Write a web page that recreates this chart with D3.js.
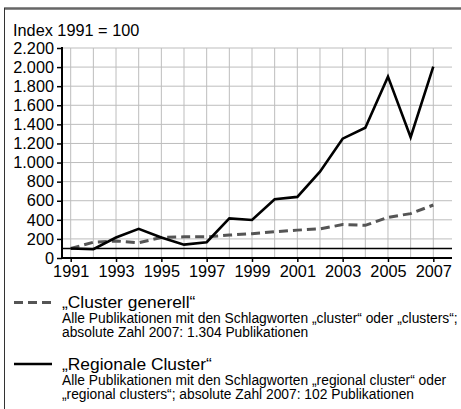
<!DOCTYPE html>
<html>
<head>
<meta charset="utf-8">
<script src="https://cdn.jsdelivr.net/npm/d3@7"></script>
<style>
  body { margin: 0; background: #fff; }
  svg { display: block; font-family: "Liberation Sans", Arial, Helvetica, sans-serif; }
  .grid line { stroke: #bdbdbd; stroke-width: 1; }
</style>
</head>
<body>
<div id="chart"></div>
<script>
// data
let years = d3.range(1991, 2008);
let clusterGenerell = [100, 165, 178, 160, 215, 222, 222, 240, 255, 275, 292, 305, 350, 342, 426, 465, 555];
let regionaleCluster = [100, 92, 215, 305, 215, 140, 165, 415, 398, 615, 640, 905, 1250, 1365, 1900, 1265, 2005];
let yTicks = d3.range(0, 2201, 200);
let xLabels = [1991, 1993, 1995, 1997, 1999, 2001, 2003, 2005, 2007];

let width = 461, height = 409;

let svg = d3.select("#chart").append("svg")
  .attr("width", width)
  .attr("height", height);

// frame
svg.append("line").attr("x1", 4).attr("x2", width).attr("y1", 8.5).attr("y2", 8.5)
  .attr("stroke", "#666").attr("stroke-width", 2.5);
svg.append("line").attr("x1", 4.5).attr("x2", 4.5).attr("y1", 8).attr("y2", height)
  .attr("stroke", "#333").attr("stroke-width", 1);

// scales
let x = d3.scaleLinear().domain([1991, 2007]).range([70.7, 433.3]);
let y = d3.scaleLinear().domain([0, 2200]).range([258, 48]);
let plotLeft = 62, plotRight = 452;

// grid
let grid = svg.append("g").attr("class", "grid");
grid.selectAll(".h").data(yTicks.filter(d => d > 0)).enter().append("line")
  .attr("x1", plotLeft).attr("x2", plotRight)
  .attr("y1", d => y(d)).attr("y2", d => y(d));
grid.selectAll(".v").data(years).enter().append("line")
  .attr("x1", d => x(d)).attr("x2", d => x(d))
  .attr("y1", y(2200)).attr("y2", y(0));

// title
svg.append("text").attr("x", 13).attr("y", 35.5)
  .attr("font-size", 16.3).text("Index 1991 = 100");

// y axis
let yAxis = svg.append("g").attr("transform", "translate(" + plotLeft + ",0)")
  .call(d3.axisLeft(y).tickValues(yTicks).tickSize(5).tickPadding(3)
    .tickFormat(d => d3.format(",")(d).replace(/,/g, ".")));
yAxis.select(".domain").remove();
yAxis.selectAll("line").attr("stroke", "#000").attr("stroke-width", 1.5);
yAxis.selectAll("text").attr("font-size", 16.3).attr("font-family", null).attr("fill", "#000");
svg.append("line").attr("x1", plotLeft).attr("x2", plotLeft).attr("y1", y(2200) - 1).attr("y2", y(0))
  .attr("stroke", "#000").attr("stroke-width", 2);

// reference line at 100
svg.append("line").attr("x1", plotLeft).attr("x2", plotRight)
  .attr("y1", y(100)).attr("y2", y(100))
  .attr("stroke", "#000").attr("stroke-width", 1.5);

// x axis
let xAxis = svg.append("g").attr("transform", "translate(0," + y(0) + ")")
  .call(d3.axisBottom(x).tickValues(xLabels).tickSize(4).tickPadding(3.5).tickFormat(d3.format("d")));
xAxis.select(".domain").remove();
xAxis.selectAll("line").attr("stroke", "#000").attr("stroke-width", 1.5);
xAxis.selectAll("text").attr("font-size", 16.3).attr("font-family", null).attr("fill", "#000");
svg.append("line").attr("x1", plotLeft - 1).attr("x2", plotRight).attr("y1", y(0)).attr("y2", y(0))
  .attr("stroke", "#000").attr("stroke-width", 2);

// lines
let line = d3.line().x((d, i) => x(years[i])).y(d => y(d));

svg.append("path").datum(clusterGenerell)
  .attr("d", line).attr("fill", "none")
  .attr("stroke", "#555").attr("stroke-width", 3)
  .attr("stroke-dasharray", "9,5");

svg.append("path").datum(regionaleCluster)
  .attr("d", line).attr("fill", "none")
  .attr("stroke", "#000").attr("stroke-width", 2.6)
  .attr("stroke-linejoin", "miter");

// legend
let legend = [
  { title: "\u201ECluster generell\u201C",
    lines: ["Alle Publikationen mit den Schlagworten \u201Ecluster\u201C oder \u201Eclusters\u201C;",
            "absolute Zahl 2007: 1.304 Publikationen"],
    dash: "9,5", color: "#555", width: 3, top: 302.5 },
  { title: "\u201ERegionale Cluster\u201C",
    lines: ["Alle Publikationen mit den Schlagworten \u201Eregional cluster\u201C oder",
            "\u201Eregional clusters\u201C; absolute Zahl 2007: 102 Publikationen"],
    dash: null, color: "#000", width: 2.6, top: 364 }
];

let lg = svg.selectAll(".legend").data(legend).enter().append("g")
  .attr("transform", d => "translate(0," + d.top + ")");
lg.append("line").attr("x1", 14).attr("x2", 52).attr("y1", 0).attr("y2", 0)
  .attr("stroke", d => d.color).attr("stroke-width", d => d.width)
  .attr("stroke-dasharray", d => d.dash);
lg.append("text").attr("x", 62).attr("y", 5.5).attr("font-size", 17.4).text(d => d.title);
lg.each(function(d) {
  d3.select(this).selectAll(".desc").data(d.lines).enter().append("text")
    .attr("x", 62).attr("y", (t, i) => 20.5 + i * 14)
    .attr("font-size", 13.8).text(t => t);
});
</script>
</body>
</html>
